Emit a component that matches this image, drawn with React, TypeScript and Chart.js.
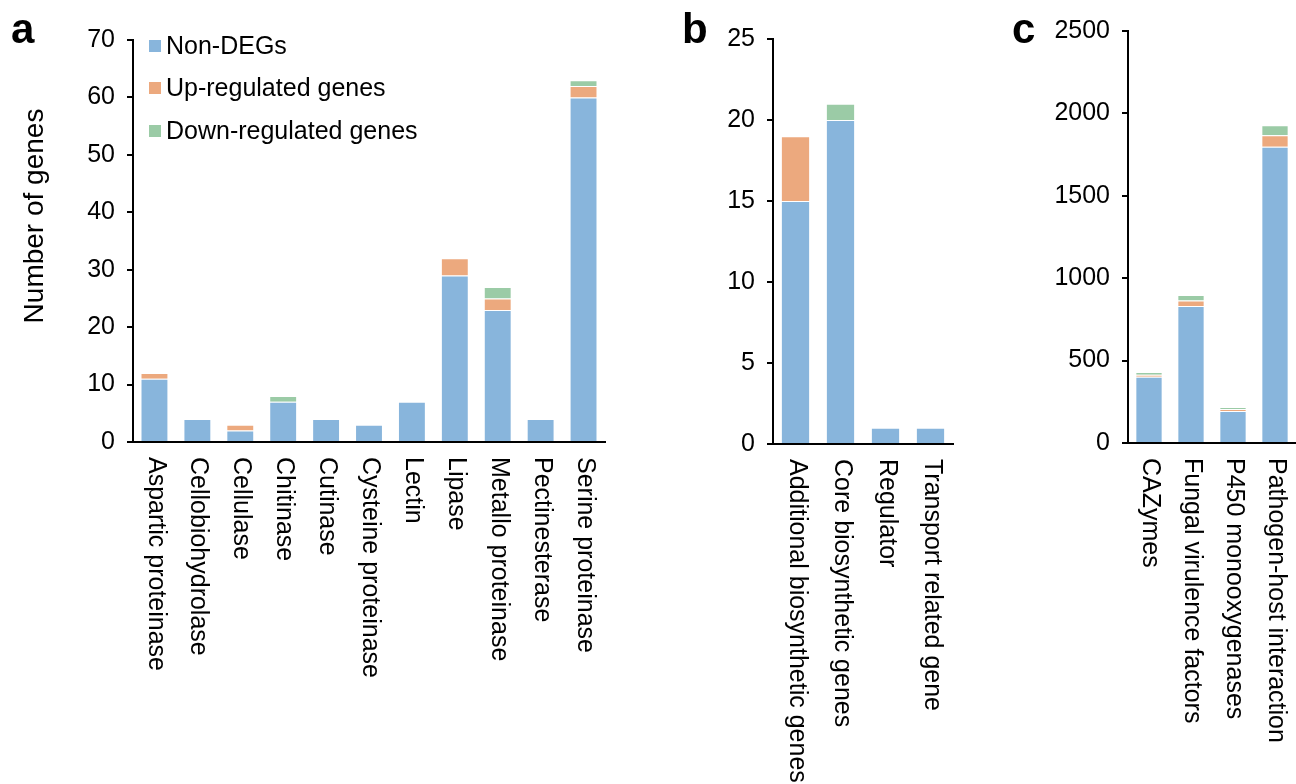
import React, { useEffect, useRef } from 'react';
import { Chart, registerables } from 'chart.js';

Chart.register(...registerables);

const FONT = '"Liberation Sans", Arial, Helvetica, sans-serif';
const BLUE = '#88b5dc';
const ORANGE = '#eca97e';
const GREEN = '#9bcba6';
const SERIES_NAMES = ['Non-DEGs', 'Up-regulated genes', 'Down-regulated genes'];

// Panel a
const aCategories = [
  'Aspartic proteinase',
  'Cellobiohydrolase',
  'Cellulase',
  'Chitinase',
  'Cutinase',
  'Cysteine proteinase',
  'Lectin',
  'Lipase',
  'Metallo proteinase',
  'Pectinesterase',
  'Serine proteinase',
];
const aNonDEGs = [11, 4, 2, 7, 4, 3, 7, 29, 23, 4, 60];
const aUp = [1, 0, 1, 0, 0, 0, 0, 3, 2, 0, 2];
const aDown = [0, 0, 0, 1, 0, 0, 0, 0, 2, 0, 1];
const aMax = 70;
const aStep = 10;

// Panel b
const bCategories = [
  'Additional biosynthetic genes',
  'Core biosynthetic genes',
  'Regulator',
  'Transport related gene',
];
const bNonDEGs = [15, 20, 1, 1];
const bUp = [4, 0, 0, 0];
const bDown = [0, 1, 0, 0];
const bMax = 25;
const bStep = 5;

// Panel c
const cCategories = [
  'CAZymes',
  'Fungal virulence factors',
  'P450 monooxygenases',
  'Pathogen-host interaction',
];
const cNonDEGs = [402, 831, 194, 1798];
const cUp = [12, 33, 12, 69];
const cDown = [17, 34, 12, 61];
const cMax = 2500;
const cStep = 500;

const H = 784;

type Area = { left: number; right: number; top: number; bottom: number };

type PanelProps = {
  x: number;
  width: number;
  area: Area;
  categories: string[];
  non: number[];
  up: number[];
  down: number[];
  max: number;
  step: number;
  letter: string;
  letterX: number;
  yTitle?: string;
  legend?: boolean;
};

function Panel(p: PanelProps) {
  const ref = useRef<HTMLCanvasElement>(null);
  useEffect(() => {
    const canvas = ref.current;
    if (!canvas) return;
    const decor = {
      id: 'decor',
      afterDraw(chart: any) {
        const ctx = chart.ctx as CanvasRenderingContext2D;
        const xs = chart.scales.x;
        ctx.save();
        ctx.fillStyle = '#000';
        // category labels, rotated clockwise
        ctx.font = `25px ${FONT}`;
        ctx.textAlign = 'left';
        ctx.textBaseline = 'middle';
        p.categories.forEach((c, i) => {
          const px = xs.getPixelForValue(i);
          ctx.save();
          ctx.translate(px + 1, p.area.bottom + 15);
          ctx.rotate(Math.PI / 2);
          ctx.fillText(c, 0, 0);
          ctx.restore();
        });
        // panel letter
        ctx.font = `bold 42px ${FONT}`;
        ctx.textBaseline = 'alphabetic';
        ctx.fillText(p.letter, p.letterX, 43);
        // y title
        if (p.yTitle) {
          ctx.save();
          ctx.font = `28px ${FONT}`;
          ctx.textAlign = 'center';
          ctx.textBaseline = 'middle';
          ctx.translate(35, 216);
          ctx.rotate(-Math.PI / 2);
          ctx.fillText(p.yTitle, 0, 0);
          ctx.restore();
        }
        // legend
        if (p.legend) {
          const cols = [BLUE, ORANGE, GREEN];
          const ys = [46, 88, 131];
          ctx.font = `25px ${FONT}`;
          ctx.textAlign = 'left';
          ctx.textBaseline = 'middle';
          SERIES_NAMES.forEach((n, i) => {
            ctx.fillStyle = cols[i];
            ctx.fillRect(149, ys[i] - 6, 12, 12);
            ctx.fillStyle = '#000';
            ctx.fillText(n, 166, ys[i] + 1);
          });
        }
        ctx.restore();
      },
    };
    const mk = (label: string, data: number[], color: string) => ({
      label,
      data,
      backgroundColor: color,
      borderColor: 'rgba(255,255,255,0.45)',
      borderWidth: 1,
      barPercentage: 0.65,
      categoryPercentage: 1,
    });
    const chart = new Chart(canvas, {
      type: 'bar',
      data: {
        labels: p.categories,
        datasets: [
          mk(SERIES_NAMES[0], p.non, BLUE),
          mk(SERIES_NAMES[1], p.up, ORANGE),
          mk(SERIES_NAMES[2], p.down, GREEN),
        ],
      },
      options: {
        animation: false,
        responsive: false,
        devicePixelRatio: 1,
        layout: {
          padding: { top: p.area.top, right: p.width - p.area.right, bottom: 0, left: 0 },
        },
        plugins: {
          legend: { display: false },
          tooltip: { enabled: false },
        },
        scales: {
          x: {
            stacked: true,
            ticks: { display: false },
            grid: { display: false },
            border: { display: true, color: '#000', width: 2 },
            afterFit: (s: any) => {
              s.height = H - p.area.bottom;
            },
          },
          y: {
            stacked: true,
            min: 0,
            max: p.max,
            ticks: {
              stepSize: p.step,
              color: '#000',
              font: { family: FONT, size: 25 },
              padding: 12,
              callback: (v: any) => String(v),
            },
            grid: {
              drawOnChartArea: false,
              drawTicks: true,
              tickLength: 6,
              color: '#000',
              lineWidth: 2,
            },
            border: { display: true, color: '#000', width: 2 },
            afterFit: (s: any) => {
              s.width = p.area.left;
            },
          },
        },
      } as any,
      plugins: [decor],
    });
    return () => chart.destroy();
  }, []);
  return (
    <canvas
      ref={ref}
      width={p.width}
      height={H}
      style={{ position: 'absolute', left: p.x, top: 0, width: p.width, height: H }}
    />
  );
}

export default function App() {
  return (
    <div
      style={{
        position: 'absolute',
        left: 0,
        top: 0,
        width: 1296,
        height: H,
        background: '#fff',
        overflow: 'hidden',
      }}
    >
      <Panel
        x={0}
        width={640}
        area={{ left: 133, right: 605, top: 40, bottom: 442 }}
        categories={aCategories}
        non={aNonDEGs}
        up={aUp}
        down={aDown}
        max={aMax}
        step={aStep}
        letter="a"
        letterX={11}
        yTitle="Number of genes"
        legend
      />
      <Panel
        x={660}
        width={320}
        area={{ left: 113, right: 293, top: 39, bottom: 444 }}
        categories={bCategories}
        non={bNonDEGs}
        up={bUp}
        down={bDown}
        max={bMax}
        step={bStep}
        letter="b"
        letterX={22}
      />
      <Panel
        x={990}
        width={306}
        area={{ left: 138, right: 306, top: 31, bottom: 443 }}
        categories={cCategories}
        non={cNonDEGs}
        up={cUp}
        down={cDown}
        max={cMax}
        step={cStep}
        letter="c"
        letterX={22}
      />
    </div>
  );
}
